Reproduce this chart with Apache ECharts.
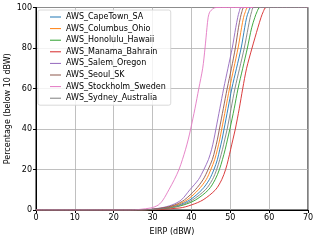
<!DOCTYPE html>
<html>
<head>
<meta charset="utf-8">
<script src="https://cdn.jsdelivr.net/npm/echarts@6/dist/echarts.min.js"></script>
<style>html,body{margin:0;padding:0;background:#fff}#c{width:319px;height:240px}</style>
</head>
<body>
<div id="c"></div>
<script>
var seriesNames = ["AWS_CapeTown_SA","AWS_Columbus_Ohio","AWS_Honolulu_Hawaii","AWS_Manama_Bahrain","AWS_Salem_Oregon","AWS_Seoul_SK","AWS_Stockholm_Sweden","AWS_Sydney_Australia"];
var colors = ["#1f77b4","#ff7f0e","#2ca02c","#d62728","#9467bd","#8c564b","#e377c2","#7f7f7f"];
// percentage levels (y) and EIRP (x) at which each curve reaches them
var levels     = [0, 0, 1,    2.5,  5,    10,   15,   20,   25,   30,   35,   40,   50,   60,   70,   80,   90,   95,   98,   100,  100];
var capeTownX  = [0, 27, 33.5, 36.8, 39.6, 42.7, 44.6, 45.8, 46.7, 47.3, 47.9, 48.4, 49.4, 50.4, 51.6, 52.8, 53.7, 54.2, 54.7, 55.3, 70];
var columbusX  = [0, 27, 33.0, 36.2, 38.9, 41.8, 43.8, 45.0, 46.0, 46.7, 47.3, 47.8, 48.8, 49.8, 50.9, 52.0, 52.9, 53.4, 53.9, 54.5, 70];
var honoluluX  = [0, 27, 34.5, 38.0, 41.1, 44.4, 46.1, 47.2, 48.0, 48.7, 49.3, 49.9, 51.0, 52.0, 53.2, 54.4, 55.5, 56.3, 56.9, 57.6, 70];
var manamaX    = [0, 27, 37.0, 40.0, 43.0, 46.2, 47.8, 48.8, 49.5, 50.1, 50.7, 51.3, 52.3, 53.2, 54.2, 55.6, 57.1, 57.9, 58.5, 59.2, 70];
var salemX     = [0, 27, 32.0, 35.0, 37.4, 39.6, 41.8, 43.2, 44.4, 45.2, 45.8, 46.3, 47.3, 48.3, 49.4, 50.5, 51.4, 51.9, 52.3, 52.8, 70];
var seoulX     = [0, 27, 32.5, 35.7, 38.2, 41.0, 43.0, 44.3, 45.4, 46.1, 46.7, 47.2, 48.2, 49.2, 50.3, 51.3, 52.1, 52.6, 53.0, 53.5, 70];
var stockholmX = [0, 24, 29.5, 31.5, 32.7, 34.2, 35.6, 36.8, 37.7, 38.5, 39.2, 39.8, 40.9, 41.9, 42.9, 43.5, 44.0, 44.3, 44.8, 46.3, 70];
var sydneyX    = [0, 27, 34.0, 37.4, 40.3, 43.6, 45.4, 46.5, 47.3, 48.0, 48.6, 49.2, 50.2, 51.2, 52.4, 53.6, 54.6, 55.1, 55.5, 56.0, 70];
var xTicks = [0, 10, 20, 30, 40, 50, 60, 70];
var yTicks = [0, 20, 40, 60, 80, 100];

var allX = [capeTownX, columbusX, honoluluX, manamaX, salemX, seoulX, stockholmX, sydneyX];
var FONT = "DejaVu Sans";
var series = seriesNames.map(function(n, i){
  return {
    name: n, type: 'line', showSymbol: false, symbol: 'none',
    smooth: 0.3,
    lineStyle: {width: 0.9, color: colors[i]},
    itemStyle: {color: colors[i]},
    data: allX[i].map(function(x, k){ return [x, levels[k]]; })
  };
});
var chart = echarts.init(document.getElementById('c'), null, {renderer: 'canvas'});
chart.setOption({
  animation: false,
  backgroundColor: '#fff',
  grid: {left: 36, right: 11, top: 7.5, bottom: 30, containLabel: false, outerBoundsMode: 'none',
         show: true, borderColor: '#000', borderWidth: 1, backgroundColor: 'transparent'},
  xAxis: {
    type: 'value', min: xTicks[0], max: xTicks[xTicks.length-1], interval: 10,
    name: 'EIRP (dBW)', nameLocation: 'middle', nameGap: 18, nameMoveOverlap: false,
    nameTextStyle: {fontFamily: FONT, fontSize: 8, color: '#000'},
    axisLine: {show: true, lineStyle: {color: '#000', width: 1}},
    axisTick: {show: true, length: 3, lineStyle: {color: '#000'}},
    axisLabel: {fontFamily: FONT, fontSize: 8, color: '#000', margin: 4},
    splitLine: {show: true, lineStyle: {color: '#b0b0b0', width: 0.8}}
  },
  yAxis: {
    type: 'value', min: yTicks[0], max: yTicks[yTicks.length-1], interval: 20,
    name: 'Percentage (below 10 dBW)', nameLocation: 'middle', nameGap: 24, nameMoveOverlap: false,
    nameTextStyle: {fontFamily: FONT, fontSize: 8, color: '#000'},
    axisLine: {show: true, lineStyle: {color: '#000', width: 1}},
    axisTick: {show: true, length: 3, lineStyle: {color: '#000'}},
    axisLabel: {fontFamily: FONT, fontSize: 8, color: '#000', margin: 4},
    splitLine: {show: true, lineStyle: {color: '#b0b0b0', width: 0.8}}
  },
  legend: {
    orient: 'vertical', left: 38, top: 10,
    data: seriesNames,
    icon: 'rect', itemWidth: 11, itemHeight: 1, itemGap: 1.6,
    padding: [2, 5, 2, 12],
    backgroundColor: 'rgba(255,255,255,0.8)', borderColor: '#d0d0d0', borderWidth: 0.8, borderRadius: 2,
    textStyle: {fontFamily: FONT, fontSize: 8, color: '#000', lineHeight: 10}
  },
  series: series
});
</script>
</body>
</html>
